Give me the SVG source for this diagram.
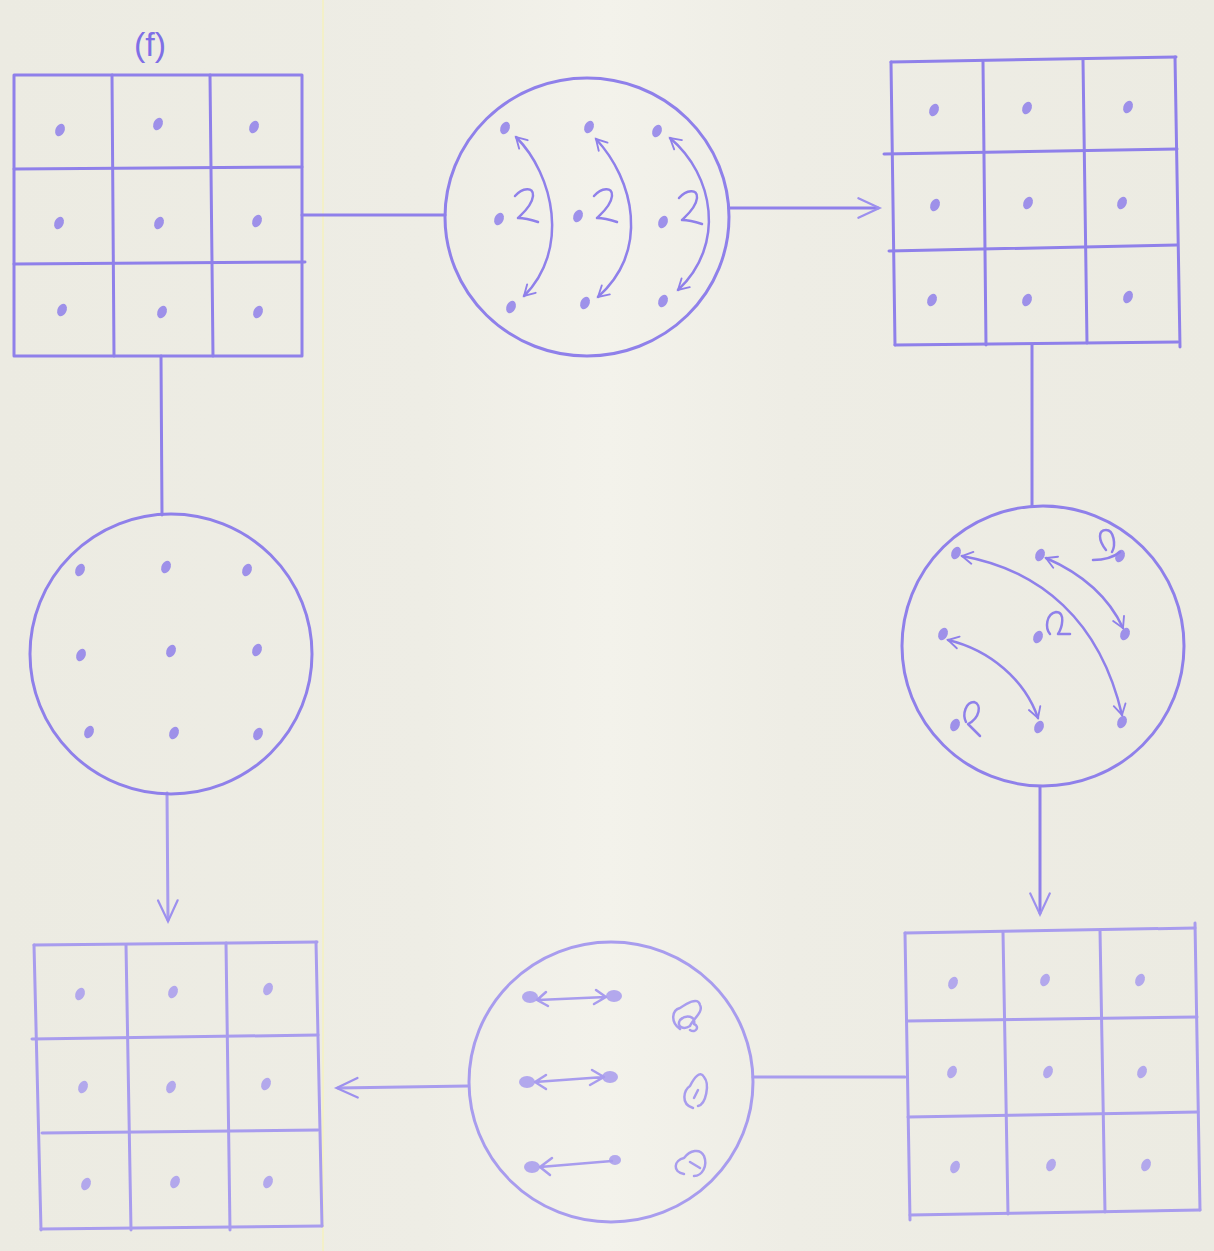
<svg xmlns="http://www.w3.org/2000/svg" width="1214" height="1251" viewBox="0 0 1214 1251">
<defs>
<style>
.ln{fill:none;stroke:#8f80ea;stroke-width:3;stroke-linecap:round;stroke-linejoin:round}
.lt{fill:none;stroke:#a89cee;stroke-width:3;stroke-linecap:round;stroke-linejoin:round}
.th{fill:none;stroke:#8f80ea;stroke-width:2.5;stroke-linecap:round;stroke-linejoin:round}
.dot{fill:#8f80ea;opacity:0.85}
.dl{fill:#a89cee;opacity:0.85}
.lbl{font-family:"Liberation Sans",Arial,sans-serif;font-size:34px;fill:#7f6fe6}
</style>
<linearGradient id="bg" x1="0" y1="0" x2="1" y2="0">
<stop offset="0" stop-color="#ecebe2"/>
<stop offset="0.35" stop-color="#eeede5"/>
<stop offset="0.5" stop-color="#f3f2eb"/>
<stop offset="0.65" stop-color="#eeede5"/>
<stop offset="1" stop-color="#ecebe2"/>
</linearGradient>
<ellipse id="d" rx="4.5" ry="6.5" transform="rotate(25)"/>
<marker id="ah" viewBox="0 0 20 20" refX="16" refY="10" markerWidth="15" markerHeight="15" markerUnits="userSpaceOnUse" orient="auto-start-reverse">
<path d="M2,2 L16,10 L2,18" fill="none" stroke="#8f80ea" stroke-width="2.5" stroke-linecap="round"/>
</marker>
<marker id="ahb" viewBox="0 0 20 20" refX="16" refY="10" markerWidth="28" markerHeight="28" markerUnits="userSpaceOnUse" orient="auto-start-reverse">
<path d="M2,3 L17,10 L2,17" fill="none" stroke="#9d90ee" stroke-width="1.6" stroke-linecap="round"/>
</marker>
</defs>
<rect width="1214" height="1251" fill="url(#bg)"/>
<line x1="323" y1="0" x2="323" y2="1251" stroke="#f3f0c8" stroke-width="2"/>

<text class="lbl" x="134" y="56">(f)</text>

<g id="connectors">
<line class="ln" x1="302" y1="215" x2="445" y2="215"/>
<line class="ln" x1="729" y1="208" x2="878" y2="208" marker-end="url(#ahb)"/>
<line class="ln" x1="1032" y1="345" x2="1032" y2="506"/>
<line class="ln" x1="1040" y1="787" x2="1040" y2="913" marker-end="url(#ahb)"/>
<line class="lt" x1="905" y1="1077" x2="753" y2="1077"/>
<line class="lt" x1="468" y1="1086" x2="338" y2="1088" marker-end="url(#ahb)"/>
<line class="ln" x1="161" y1="356" x2="162" y2="515"/>
<line class="lt" x1="167" y1="793" x2="168" y2="920" marker-end="url(#ahb)"/>
</g>

<g id="gridA">
<rect class="ln" x="14" y="75" width="288" height="281"/>
<line class="ln" x1="112" y1="75" x2="114" y2="356"/>
<line class="ln" x1="210" y1="75" x2="213" y2="356"/>
<line class="ln" x1="14" y1="169" x2="302" y2="167"/>
<line class="ln" x1="14" y1="264" x2="305" y2="262"/>
<g class="dot">
<use href="#d" x="60" y="130"/><use href="#d" x="158" y="124"/><use href="#d" x="254" y="127"/>
<use href="#d" x="59" y="223"/><use href="#d" x="159" y="223"/><use href="#d" x="257" y="221"/>
<use href="#d" x="62" y="310"/><use href="#d" x="162" y="312"/><use href="#d" x="258" y="312"/>
</g>
</g>

<g id="circleTop">
<ellipse class="ln" cx="587" cy="217" rx="142" ry="139"/>
<g class="dot">
<use href="#d" x="505" y="128"/><use href="#d" x="589" y="127"/><use href="#d" x="657" y="131"/>
<use href="#d" x="499" y="219"/><use href="#d" x="578" y="216"/><use href="#d" x="663" y="222"/>
<use href="#d" x="511" y="307"/><use href="#d" x="585" y="303"/><use href="#d" x="663" y="301"/>
</g>
<path class="th" d="M516,137 C554,175 570,250 524,296" marker-start="url(#ah)" marker-end="url(#ah)"/>
<path class="th" d="M596,139 C634,180 650,250 598,297" marker-start="url(#ah)" marker-end="url(#ah)"/>
<path class="th" d="M670,138 C714,175 726,245 678,290" marker-start="url(#ah)" marker-end="url(#ah)"/>
<path class="th" d="M515,196 C522,188 534,186 533,196 C532,206 522,214 518,218 C526,218 532,220 538,222"/>
<path class="th" d="M594,196 C601,188 613,186 612,196 C611,206 601,214 597,218 C605,218 611,220 617,222"/>
<path class="th" d="M679,198 C686,190 698,188 697,198 C696,208 686,216 682,220 C690,220 696,222 702,224"/>
</g>

<g id="gridB">
<line class="ln" x1="891" y1="62" x2="1176" y2="57"/>
<line class="ln" x1="891" y1="62" x2="895" y2="345"/>
<line class="ln" x1="1175" y1="57" x2="1180" y2="347"/>
<line class="ln" x1="895" y1="345" x2="1178" y2="342"/>
<line class="ln" x1="983" y1="62" x2="986" y2="345"/>
<line class="ln" x1="1083" y1="60" x2="1087" y2="343"/>
<line class="ln" x1="884" y1="154" x2="1177" y2="149"/>
<line class="ln" x1="889" y1="251" x2="1177" y2="245"/>
<g class="dot">
<use href="#d" x="934" y="110"/><use href="#d" x="1027" y="108"/><use href="#d" x="1128" y="107"/>
<use href="#d" x="935" y="205"/><use href="#d" x="1028" y="203"/><use href="#d" x="1122" y="203"/>
<use href="#d" x="932" y="300"/><use href="#d" x="1027" y="300"/><use href="#d" x="1128" y="297"/>
</g>
</g>

<g id="circleRight">
<ellipse class="ln" cx="1043" cy="646" rx="141" ry="140"/>
<g class="dot">
<use href="#d" x="956" y="553"/><use href="#d" x="1040" y="555"/><use href="#d" x="1120" y="556"/>
<use href="#d" x="943" y="634"/><use href="#d" x="1038" y="637"/><use href="#d" x="1125" y="634"/>
<use href="#d" x="955" y="725"/><use href="#d" x="1039" y="727"/><use href="#d" x="1122" y="722"/>
</g>
<path class="th" d="M962,556 C1040,570 1100,620 1122,715" marker-start="url(#ah)" marker-end="url(#ah)"/>
<path class="th" d="M1046,558 C1085,575 1110,600 1123,628" marker-start="url(#ah)" marker-end="url(#ah)"/>
<path class="th" d="M948,640 C990,650 1025,680 1038,718" marker-start="url(#ah)" marker-end="url(#ah)"/>
<path class="th" d="M1093,560 C1105,560 1115,556 1120,552 M1106,550 C1098,540 1098,530 1106,530 C1114,530 1116,545 1112,552"/>
<path class="th" d="M1050,634 C1045,628 1046,614 1056,612 C1066,612 1062,628 1058,634 L1070,634"/>
<path class="th" d="M966,722 C962,714 966,702 974,702 C982,704 980,718 968,724 L980,736"/>
</g>

<g id="gridC">
<g class="lt">
<line x1="905" y1="933" x2="1195" y2="928"/>
<line x1="905" y1="933" x2="910" y2="1220"/>
<line x1="1195" y1="923" x2="1200" y2="1210"/>
<line x1="910" y1="1215" x2="1200" y2="1210"/>
<line x1="1003" y1="932" x2="1008" y2="1214"/>
<line x1="1100" y1="930" x2="1105" y2="1212"/>
<line x1="907" y1="1021" x2="1197" y2="1017"/>
<line x1="908" y1="1117" x2="1198" y2="1112"/>
</g>
<g class="dl">
<use href="#d" x="953" y="983"/><use href="#d" x="1045" y="980"/><use href="#d" x="1140" y="980"/>
<use href="#d" x="952" y="1072"/><use href="#d" x="1048" y="1072"/><use href="#d" x="1142" y="1072"/>
<use href="#d" x="955" y="1167"/><use href="#d" x="1051" y="1165"/><use href="#d" x="1146" y="1165"/>
</g>
</g>

<g id="circleBottom">
<ellipse class="lt" cx="611" cy="1082" rx="142" ry="140"/>
<g class="dl">
<ellipse cx="530" cy="997" rx="8" ry="6"/><ellipse cx="614" cy="996" rx="8" ry="6"/>
<ellipse cx="527" cy="1082" rx="8" ry="6"/><ellipse cx="610" cy="1077" rx="8" ry="6"/>
<ellipse cx="532" cy="1167" rx="8" ry="6"/><ellipse cx="615" cy="1160" rx="6" ry="5"/>
</g>
<g class="lt" style="stroke-width:2.5">
<path d="M538,1000 L606,997 M546,992 L537,1000 L548,1006 M596,990 L606,997 L594,1004"/>
<path d="M535,1082 L604,1077 M546,1075 L535,1082 L546,1089 M592,1070 L604,1077 L590,1085"/>
<path d="M540,1167 L612,1161 M552,1158 L540,1167 L550,1175"/>
<path d="M680,1029 C670,1022 672,1010 680,1008 C686,1004 698,996 700,1005 C704,1012 692,1020 690,1026 C684,1030 676,1027 680,1020 C686,1014 696,1016 694,1024 C700,1026 696,1034 690,1030"/>
<path d="M693,1108 C680,1104 684,1090 690,1086 C694,1078 700,1070 704,1077 C710,1084 706,1104 698,1106 M698,1090 L694,1098"/>
<path d="M684,1174 C672,1172 674,1160 684,1158 C690,1150 700,1148 704,1156 C708,1166 702,1176 694,1176 M690,1162 L700,1168"/>
</g>
</g>

<g id="gridD">
<g class="lt">
<line x1="34" y1="945" x2="317" y2="942"/>
<line x1="34" y1="945" x2="41" y2="1230"/>
<line x1="316" y1="942" x2="322" y2="1226"/>
<line x1="41" y1="1229" x2="322" y2="1226"/>
<line x1="126" y1="945" x2="131" y2="1230"/>
<line x1="226" y1="943" x2="230" y2="1230"/>
<line x1="32" y1="1039" x2="318" y2="1035"/>
<line x1="42" y1="1133" x2="318" y2="1130"/>
</g>
<g class="dl">
<use href="#d" x="80" y="994"/><use href="#d" x="173" y="992"/><use href="#d" x="268" y="989"/>
<use href="#d" x="83" y="1087"/><use href="#d" x="171" y="1087"/><use href="#d" x="266" y="1084"/>
<use href="#d" x="86" y="1184"/><use href="#d" x="175" y="1182"/><use href="#d" x="268" y="1182"/>
</g>
</g>

<g id="circleLeft">
<ellipse class="ln" cx="171" cy="654" rx="141" ry="140"/>
<g class="dot">
<use href="#d" x="80" y="570"/><use href="#d" x="166" y="567"/><use href="#d" x="247" y="570"/>
<use href="#d" x="81" y="655"/><use href="#d" x="171" y="651"/><use href="#d" x="257" y="650"/>
<use href="#d" x="89" y="732"/><use href="#d" x="174" y="733"/><use href="#d" x="258" y="734"/>
</g>
</g>
</svg>
